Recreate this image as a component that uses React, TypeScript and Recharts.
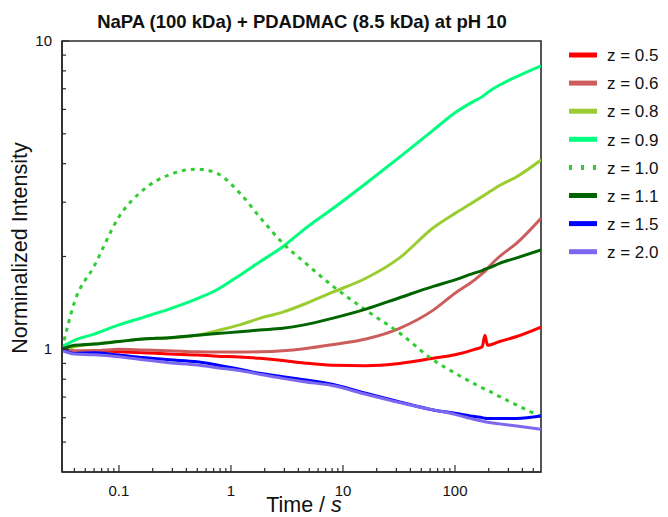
import React from 'react';
import { LineChart, Line, XAxis, YAxis, ReferenceArea } from 'recharts';

const FONT = '"Liberation Sans", Arial, Helvetica, sans-serif';
const AXIS = '#2b2b2b';

// Time points (s)
const times = [0.031, 0.04, 0.06, 0.1, 0.165, 0.28, 0.5, 0.75, 1.2, 1.8, 2.9, 4.5, 8, 16, 32, 64, 100, 150, 175, 185, 195, 250, 356, 586];

// Normalized intensity per z
const z05 = [1.0, 0.98, 0.99, 0.982, 0.975, 0.965, 0.958, 0.95, 0.944, 0.935, 0.92, 0.903, 0.888, 0.885, 0.9, 0.935, 0.96, 1.0, 1.02, 1.11, 1.03, 1.06, 1.1, 1.18];
const z06 = [1.0, 0.99, 0.99, 1.0, 0.995, 0.99, 0.982, 0.98, 0.98, 0.982, 0.99, 1.005, 1.035, 1.08, 1.17, 1.34, 1.52, 1.68, 1.76, 1.79, 1.83, 2.0, 2.21, 2.66];
const z08 = [1.0, 1.02, 1.04, 1.06, 1.08, 1.09, 1.11, 1.15, 1.2, 1.26, 1.32, 1.4, 1.53, 1.7, 1.98, 2.48, 2.76, 3.02, 3.13, 3.17, 3.21, 3.4, 3.63, 4.11];
const z09 = [1.02, 1.07, 1.12, 1.2, 1.27, 1.35, 1.46, 1.56, 1.74, 1.92, 2.15, 2.45, 2.85, 3.45, 4.2, 5.14, 5.85, 6.4, 6.6, 6.7, 6.8, 7.2, 7.66, 8.3];
const z10 = [1.0, 1.42, 1.86, 2.69, 3.29, 3.68, 3.84, 3.72, 3.21, 2.69, 2.21, 1.92, 1.61, 1.34, 1.13, 0.923, 0.837, 0.772, 0.75, 0.742, 0.736, 0.703, 0.659, 0.605];
const z11 = [1.0, 1.03, 1.04, 1.06, 1.08, 1.09, 1.11, 1.125, 1.14, 1.155, 1.17, 1.2, 1.26, 1.35, 1.47, 1.6, 1.68, 1.77, 1.8, 1.82, 1.83, 1.9, 1.98, 2.1];
const z15 = [1.0, 0.97, 0.975, 0.958, 0.94, 0.925, 0.911, 0.89, 0.862, 0.836, 0.815, 0.797, 0.77, 0.72, 0.675, 0.636, 0.62, 0.605, 0.6, 0.598, 0.597, 0.597, 0.597, 0.608];
const z20 = [0.99, 0.965, 0.96, 0.946, 0.925, 0.905, 0.89, 0.872, 0.853, 0.83, 0.805, 0.785, 0.763, 0.715, 0.672, 0.636, 0.615, 0.592, 0.585, 0.582, 0.58, 0.573, 0.564, 0.55];

const seriesKeys = ['z05', 'z06', 'z08', 'z09', 'z10', 'z11', 'z15', 'z20'];
const seriesValues = [z05, z06, z08, z09, z10, z11, z15, z20];
const seriesNames = ['z = 0.5', 'z = 0.6', 'z = 0.8', 'z = 0.9', 'z = 1.0', 'z = 1.1', 'z = 1.5', 'z = 2.0'];
const seriesColors = ['#ff0000', '#cd5c5c', '#9acd32', '#00ff7f', '#32cd32', '#006400', '#0000ff', '#7b68ee'];
const seriesDashed = [false, false, false, false, true, false, false, false];

const xTicks = [0.04, 0.05, 0.06, 0.07, 0.08, 0.09, 0.1, 0.2, 0.3, 0.4, 0.5, 0.6, 0.7, 0.8, 0.9, 1, 2, 3, 4, 5, 6, 7, 8, 9, 10, 20, 30, 40, 50, 60, 70, 80, 90, 100, 200, 300, 400, 500];
const xMajor = [0.1, 1, 10, 100];
const xDomain = [0.031, 586];
const yTicks = [0.5, 0.6, 0.7, 0.8, 0.9, 1, 2, 3, 4, 5, 6, 7, 8, 9, 10];
const yMajor = [1, 10];
const yDomain = [0.4, 10];

const data = times.map((t, i) => {
  const row: any = { t };
  seriesKeys.forEach((k, j) => {
    row[k] = seriesValues[j][i];
  });
  return row;
});

function XTick(props: any) {
  const { x, y, payload } = props;
  const v = payload.value;
  const major = xMajor.includes(v);
  return (
    <g>
      <line x1={x} x2={x} y1={y} y2={y - (major ? 7 : 4)} stroke={AXIS} strokeWidth={1.2} />
      {major && (
        <text x={x} y={y + 23.5} textAnchor="middle" fontSize={15} fontFamily={FONT} fill="#111">
          {String(v)}
        </text>
      )}
    </g>
  );
}

function YTick(props: any) {
  const { x, y, payload } = props;
  const v = payload.value;
  const major = yMajor.includes(v);
  return (
    <g>
      <line x1={x} x2={x + (major ? 7 : 4)} y1={y} y2={y} stroke={AXIS} strokeWidth={1.2} />
      {major && (
        <text x={x - 10} y={y + 5} textAnchor="end" fontSize={15} fontFamily={FONT} fill="#111">
          {String(v)}
        </text>
      )}
    </g>
  );
}

export default function App() {
  return (
    <div style={{ position: 'relative', width: 652, height: 509 }}>
      <style>{'html { overflow: hidden; }'}</style>
      <LineChart width={652} height={509} data={data} margin={{ top: 33, right: 119, left: 0, bottom: 0 }}>
        <XAxis
          dataKey="t"
          type="number"
          scale="log"
          domain={xDomain}
          allowDataOverflow
          ticks={xTicks}
          interval={0}
          tickSize={0}
          tickMargin={0}
          tickLine={false}
          tick={<XTick />}
          axisLine={{ stroke: AXIS, strokeWidth: 1.6 }}
          height={45}
        />
        <YAxis
          type="number"
          scale="log"
          domain={yDomain}
          allowDataOverflow
          ticks={yTicks}
          interval={0}
          tickSize={0}
          tickMargin={0}
          tickLine={false}
          tick={<YTick />}
          axisLine={{ stroke: AXIS, strokeWidth: 1.6 }}
          width={54}
        />
        <ReferenceArea x1={xDomain[0]} x2={xDomain[1]} y1={yDomain[0]} y2={yDomain[1]} fill="none" stroke={AXIS} strokeWidth={1.6} ifOverflow="visible" />
        {seriesKeys.map((k, j) => (
          <Line
            key={k}
            dataKey={k}
            type="monotone"
            stroke={seriesColors[j]}
            strokeWidth={3}
            strokeDasharray={seriesDashed[j] ? '4 5' : undefined}
            dot={false}
            activeDot={false}
            isAnimationActive={false}
          />
        ))}
      </LineChart>
      <svg width={652} height={509} style={{ position: 'absolute', left: 0, top: 0, pointerEvents: 'none', overflow: 'visible' }}>
        <text x={294} y={20} textAnchor="middle" fontSize={18.5} fontWeight="bold" fontFamily={FONT} fill="#111">
          NaPA (100 kDa) + PDADMAC (8.5 kDa) at pH 10
        </text>
        <text x={19} y={240} textAnchor="middle" fontSize={21.5} fontFamily={FONT} fill="#111" transform="rotate(-90, 19, 240)">
          Norminalized Intensity
        </text>
        <text x={296} y={504} textAnchor="middle" fontSize={21.5} fontFamily={FONT} fill="#111">
          Time / <tspan fontStyle="italic">s</tspan>
        </text>
        {seriesNames.map((n, j) => {
          const cy = 47 + j * 28.1;
          return (
            <g key={n}>
              <line x1={561} x2={589} y1={cy} y2={cy} stroke={seriesColors[j]} strokeWidth={5} strokeDasharray={seriesDashed[j] ? '3 9' : undefined} />
              <text x={599} y={cy + 6.2} fontSize={17} fontFamily={FONT} fill="#111">
                {n}
              </text>
            </g>
          );
        })}
      </svg>
    </div>
  );
}
